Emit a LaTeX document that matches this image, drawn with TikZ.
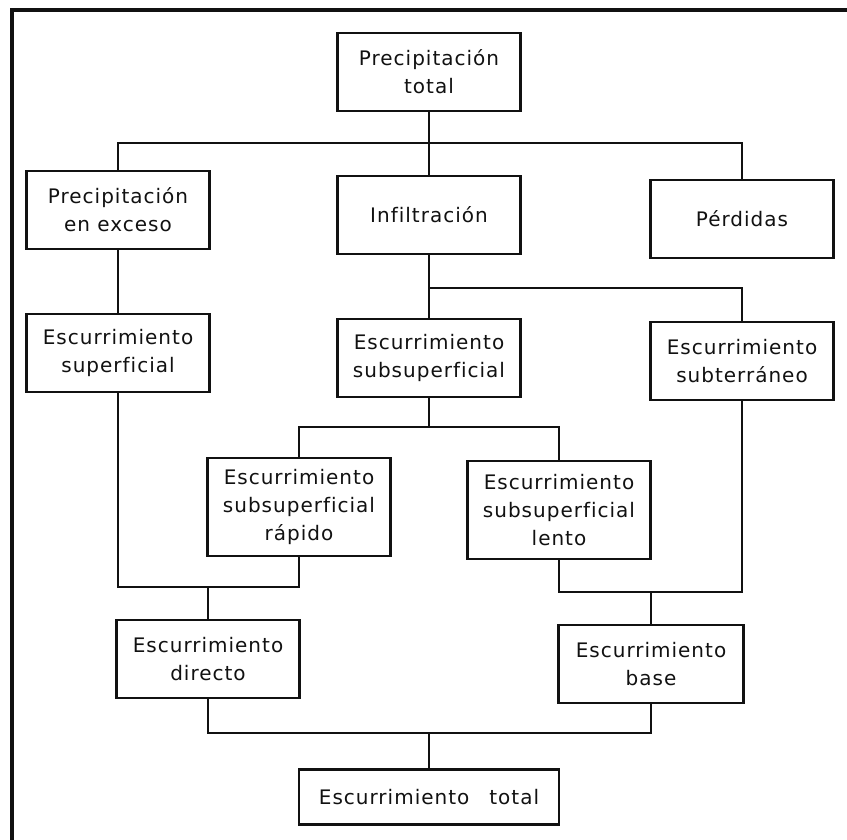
\documentclass[tikz,border=0pt]{standalone}
\usepackage{fontspec}
\setmainfont{DejaVu Sans}[LetterSpace=5, Ligatures=NoCommon]
\usepackage{xcolor}
\definecolor{InkBlack}{HTML}{111111}

\tikzset{
  box/.style={draw=InkBlack, line width=2.2pt, text=InkBlack, align=center,
    minimum width=183pt, minimum height=78pt, inner sep=2pt,
    font=\fontsize{20}{28}\selectfont},
  tallbox/.style={box, minimum height=98pt},
  link/.style={draw=InkBlack, line width=1.4pt}
}

\begin{document}
\begin{tikzpicture}[x=1pt, y=-1pt]
  \useasboundingbox (0,0) rectangle (847,840);
  % page frame (only top and left edge are in the scan)
  \draw[InkBlack, line width=4pt] (12,860) -- (12,10) -- (870,10);

  % first level
  \node[box] (ptot) at (429,72) {Precipitación\\total};
  \node[box] (pexc) at (118,210) {Precipitación\\en exceso};
  \node[box] (infil) at (429,215) {Infiltración};
  \node[box] (perd) at (742,219) {Pérdidas};

  % second level
  \node[box] (esup) at (118,353) {Escurrimiento\\superficial};
  \node[box] (esub) at (429,358) {Escurrimiento\\subsuperficial};
  \node[box] (eter) at (742,361) {Escurrimiento\\subterráneo};

  % subsurface split
  \node[tallbox] (erap) at (299,507) {Escurrimiento\\subsuperficial\\rápido};
  \node[tallbox] (elen) at (559,510) {Escurrimiento\\subsuperficial\\lento};

  % runoff parts
  \node[box] (edir) at (208,659) {Escurrimiento\\directo};
  \node[box, minimum width=185pt] (ebas) at (651,664) {Escurrimiento\\base};
  \node[box, minimum width=260pt, minimum height=55pt] (etot) at (429,797) {Escurrimiento\quad total};

  % connectors
  \coordinate (top) at (429,143);
  \draw[link] (ptot) -- (infil);
  \draw[link] (pexc) -- (pexc |- top) -- (perd |- top) -- (perd);
  \draw[link] (pexc) -- (esup);

  \coordinate (infsplit) at (429,288);
  \draw[link] (infil) -- (esub);
  \draw[link] (infsplit) -- (eter |- infsplit) -- (eter);

  \coordinate (subsplit) at (429,427);
  \draw[link] (esub) -- (subsplit);
  \draw[link] (erap) -- (erap |- subsplit) -- (elen |- subsplit) -- (elen);

  \coordinate (dirjoin) at (208,587);
  \draw[link] (esup) -- (esup |- dirjoin) -- (erap |- dirjoin) -- (erap);
  \draw[link] (dirjoin) -- (edir);

  \coordinate (basejoin) at (651,592);
  \draw[link] (elen) -- (elen |- basejoin) -- (eter |- basejoin) -- (eter);
  \draw[link] (basejoin) -- (ebas);

  \coordinate (totjoin) at (429,733);
  \draw[link] (edir) -- (edir |- totjoin) -- (ebas |- totjoin) -- (ebas);
  \draw[link] (totjoin) -- (etot);
\end{tikzpicture}
\end{document}
